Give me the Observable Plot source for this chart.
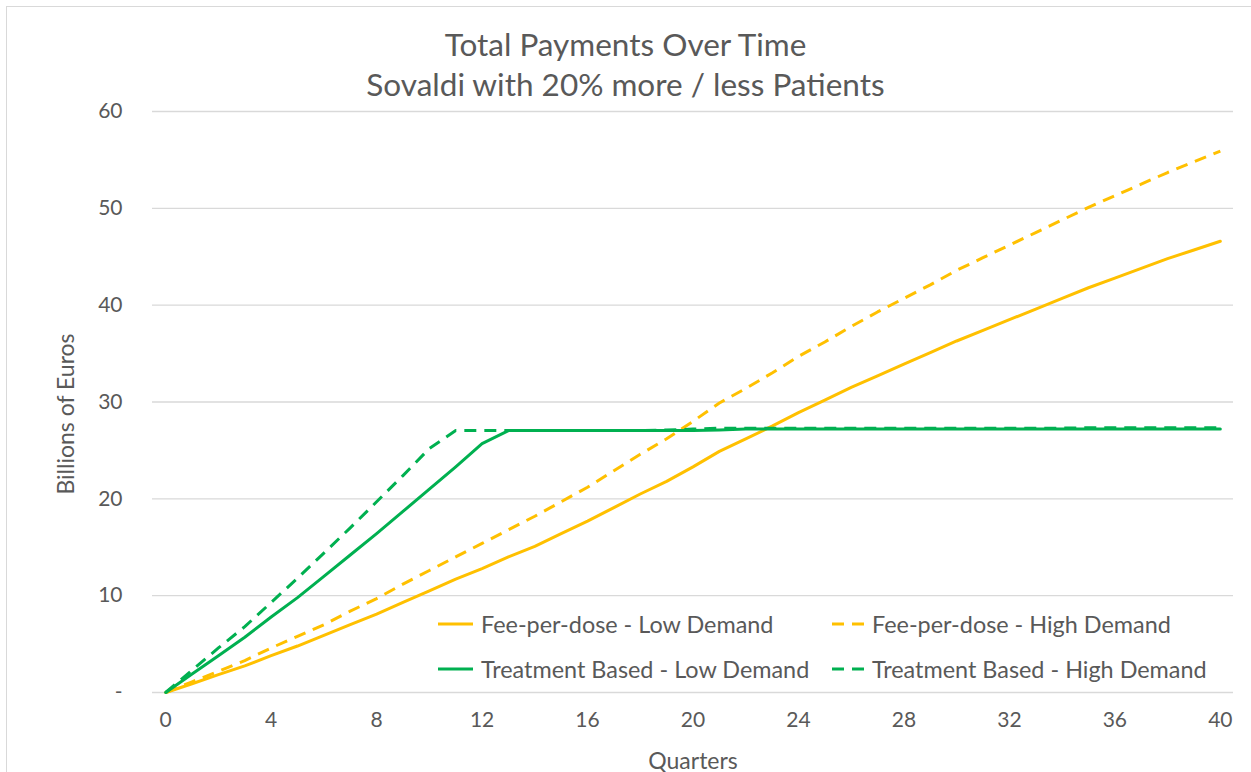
<!DOCTYPE html>
<html>
<head>
<meta charset="utf-8">
<script src="https://cdn.jsdelivr.net/npm/d3@7"></script>
<script src="https://cdn.jsdelivr.net/npm/@observablehq/plot@0.6"></script>
<style>
  html, body { margin: 0; padding: 0; background: #fff; }
  #wrap { position: relative; width: 1251px; height: 772px; overflow: hidden; font-family: Lato, "Open Sans", sans-serif; color: #595959; }
  #border { position: absolute; left: 6px; top: 6px; width: 1300px; height: 820px; border: 1px solid #d9d9d9; box-sizing: border-box; }
  #title { position: absolute; left: 0; width: 1251px; top: 24px; text-align: center; font-size: 31.5px; line-height: 40px; color: #595959; }
  #chart { position: absolute; left: 0; top: 0; }
  #legend { position: absolute; left: 436px; top: 610px; font-size: 23.4px; color: #595959; }
  .lg { position: absolute; white-space: nowrap; display: flex; align-items: center; }
  .lg svg { margin-right: 5px; }
</style>
</head>
<body>
<div id="wrap">
  <div id="border"></div>
  <div id="chart"></div>
  <div id="title">Total Payments Over Time<br>Sovaldi with 20% more / less Patients</div>
  <div id="legend"></div>
</div>
<script>
const quarters = d3.range(0, 41);
const feeLow = [0, 0.9, 1.85, 2.75, 3.8, 4.8, 5.9, 7.0, 8.1, 9.3, 10.5, 11.7, 12.8, 14.0, 15.1, 16.4, 17.7, 19.1, 20.5, 21.8, 23.3, 24.9, 26.2, 27.5, 28.9, 30.2, 31.5, 32.7, 33.9, 35.1, 36.3, 37.4, 38.5, 39.6, 40.7, 41.8, 42.8, 43.8, 44.8, 45.7, 46.6];
const feeHigh = [0, 1.1, 2.2, 3.3, 4.6, 5.8, 7.0, 8.4, 9.7, 11.2, 12.6, 14.0, 15.4, 16.8, 18.2, 19.7, 21.2, 22.9, 24.6, 26.2, 28.0, 29.9, 31.4, 33.0, 34.7, 36.2, 37.8, 39.3, 40.7, 42.1, 43.6, 44.9, 46.2, 47.5, 48.8, 50.1, 51.3, 52.5, 53.7, 54.8, 55.9];
const treatLow = [0, 1.9, 3.8, 5.7, 7.8, 9.8, 12.0, 14.2, 16.4, 18.7, 21.0, 23.3, 25.7, 27.05, 27.05, 27.05, 27.05, 27.05, 27.05, 27.05, 27.05, 27.1, 27.2, 27.2, 27.2, 27.2, 27.2, 27.2, 27.2, 27.2, 27.2, 27.2, 27.2, 27.2, 27.2, 27.2, 27.2, 27.2, 27.2, 27.2, 27.2];
const treatHigh = [0, 2.3, 4.6, 6.8, 9.3, 11.8, 14.4, 17.0, 19.7, 22.4, 25.2, 27.05, 27.05, 27.05, 27.05, 27.05, 27.05, 27.05, 27.05, 27.1, 27.2, 27.3, 27.3, 27.3, 27.3, 27.3, 27.3, 27.3, 27.3, 27.3, 27.3, 27.3, 27.3, 27.3, 27.3, 27.35, 27.35, 27.35, 27.35, 27.35, 27.35];
const seriesNames = ["Fee-per-dose - Low Demand", "Fee-per-dose - High Demand", "Treatment Based - Low Demand", "Treatment Based - High Demand"];
const seriesColors = ["#FFC000", "#FFC000", "#00B050", "#00B050"];
const seriesDashed = [false, true, false, true];
const xTicks = d3.range(0, 41, 4);
const yTicks = [0, 10, 20, 30, 40, 50, 60];
const xLabel = "Quarters";
const yLabel = "Billions of Euros";

const seriesValues = [feeLow, feeHigh, treatLow, treatHigh];
const rows = seriesValues.map((vals, i) => quarters.map((q, j) => ({q, v: vals[j], s: seriesNames[i]})));

const marks = [
  Plot.ruleY(yTicks, {stroke: "#d9d9d9", strokeWidth: 1.3}),
  Plot.axisX(xTicks, {tickSize: 0, tickPadding: 20, fontSize: 21, fill: "#595959", label: null}),
  Plot.axisY(yTicks, {tickSize: 0, tickPadding: 30, fontSize: 21, fill: "#595959", tickFormat: d => d === 0 ? "-" : d, label: null}),
  Plot.text([xLabel], {frameAnchor: "bottom", dy: 76, fontSize: 23, fill: "#595959"}),
  Plot.text([yLabel], {frameAnchor: "left", textAnchor: "middle", rotate: -90, dx: -86, dy: 12, fontSize: 23, fill: "#595959"}),
];
rows.forEach((r, i) => {
  marks.push(Plot.line(r, {x: "q", y: "v", stroke: seriesColors[i], strokeWidth: 3, strokeDasharray: seriesDashed[i] ? "12,8" : null, strokeLinejoin: "round", strokeLinecap: seriesDashed[i] ? "butt" : "round"}));
});

const chart = Plot.plot({
  width: 1251,
  height: 772,
  marginLeft: 152,
  marginRight: 18,
  marginTop: 111,
  marginBottom: 80,
  style: {fontFamily: "Lato, 'Open Sans', sans-serif", fontSize: "21px", color: "#595959", background: "transparent"},
  x: {domain: [-0.5, 40.5]},
  y: {domain: [0, 60]},
  marks
});
document.getElementById("chart").appendChild(chart);

// legend
const legend = document.getElementById("legend");
const legPos = [[0, 0], [394, 0], [0, 45], [394, 45]];
seriesNames.forEach((name, i) => {
  const d = document.createElement("div");
  d.className = "lg";
  d.style.left = legPos[i][0] + "px";
  d.style.top = legPos[i][1] + "px";
  const w = seriesDashed[i] ? 37 : 40;
  d.innerHTML = `<svg width="${w}" height="10"><line x1="2" y1="5" x2="${w - 3}" y2="5" stroke="${seriesColors[i]}" stroke-width="3" ${seriesDashed[i] ? 'stroke-dasharray="12,8"' : ''}/></svg><span>${name}</span>`;
  legend.appendChild(d);
});
</script>
</body>
</html>
